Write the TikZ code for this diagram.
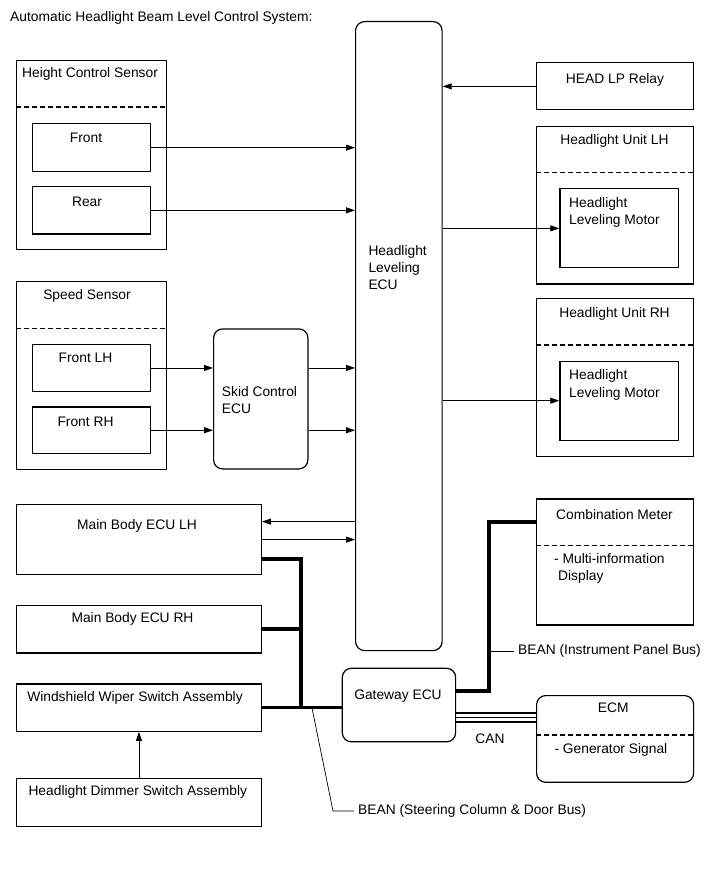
\documentclass[tikz,border=0pt]{standalone}
\usepackage{fontspec}
\setmainfont{Liberation Sans}
\usetikzlibrary{positioning,calc,arrows.meta}

\begin{document}
\begin{tikzpicture}[x=1pt,y=-1pt,
  blk/.style={draw,line width=1.2pt,rectangle,anchor=north west,inner sep=0pt},
  rblk/.style={blk,rounded corners=9pt},
  txt/.style={inner sep=0pt,font=\fontsize{13.8}{17.3}\selectfont},
  sig/.style={line width=0.8pt,-{Triangle[length=9pt,width=6pt]}},
  bus/.style={line width=3.6pt},
  can/.style={line width=1.4pt},
  dsh/.style={line width=1.2pt,dash pattern=on 5pt off 3pt},
  lead/.style={line width=0.7pt}]
\fill[white] (0,0) rectangle (713,882);
\useasboundingbox (0,0) rectangle (713,882);

% boxes
\node[blk,minimum width=150,minimum height=189] (hcs) at (16,60) {};
\node[blk,minimum width=118.5,minimum height=47.5] (front) at (31.5,123.3) {};
\node[blk,minimum width=118.5,minimum height=47.5] (rear) at (31.5,186) {};
\node[blk,minimum width=150,minimum height=188] (spd) at (16,281) {};
\node[blk,minimum width=118.5,minimum height=46.7] (flh) at (31.5,344) {};
\node[blk,minimum width=118.5,minimum height=46.7] (frh) at (31.5,406.3) {};
\node[rblk,minimum width=94.3,minimum height=140] (skid) at (213,328.3) {};
\node[rblk,minimum width=86.5,minimum height=629] (lvecu) at (355,21) {};
\node[blk,minimum width=157,minimum height=47] (relay) at (536,62.3) {};
\node[blk,minimum width=157,minimum height=157.6] (unitlh) at (536,125.7) {};
\node[blk,minimum width=118.4,minimum height=79] (motlh) at (559.3,188.3) {};
\node[blk,minimum width=157,minimum height=157.6] (unitrh) at (536,298) {};
\node[blk,minimum width=118.4,minimum height=79] (motrh) at (559.3,360.6) {};
\node[blk,minimum width=244.7,minimum height=70] (mblh) at (16,504) {};
\node[blk,minimum width=244.7,minimum height=47.3] (mbrh) at (16,605) {};
\node[blk,minimum width=244.7,minimum height=47.4] (wiper) at (16,683.3) {};
\node[blk,minimum width=244.7,minimum height=48] (dimmer) at (16,777.7) {};
\node[rblk,minimum width=113.3,minimum height=73.5] (gw) at (341.7,667.7) {};
\node[blk,minimum width=157,minimum height=126] (comb) at (536,498.3) {};
\node[rblk,minimum width=157,minimum height=86.7] (ecm) at (536,695) {};

% dashed dividers
\draw[dsh] (hcs.west |- 0,107) -- (hcs.east |- 0,107);
\draw[dsh] (spd.west |- 0,328.3) -- (spd.east |- 0,328.3);
\draw[dsh] (unitlh.west |- 0,172.7) -- (unitlh.east |- 0,172.7);
\draw[dsh] (unitrh.west |- 0,345) -- (unitrh.east |- 0,345);
\draw[dsh] (comb.west |- 0,545.7) -- (comb.east |- 0,545.7);
\draw[dsh] (ecm.west |- 0,735) -- (ecm.east |- 0,735);

% texts
\node[txt,anchor=base west] (title) at (10,22) {Automatic Headlight Beam Level Control System:};
\node[txt,anchor=base] (hcs-t) at (90,78) {Height Control Sensor};
\node[txt,anchor=base] (front-t) at (86,143) {Front};
\node[txt,anchor=base] (rear-t) at (87,207) {Rear};
\node[txt,anchor=base] (spd-t) at (87,299) {Speed Sensor};
\node[txt,anchor=base] (flh-t) at (85.5,362) {Front LH};
\node[txt,anchor=base] (frh-t) at (85.5,426) {Front RH};
\node[txt,anchor=north west,align=left] (skid-t) at (221.7,386) {Skid Control\\ECU};
\node[txt,anchor=north west,align=left] (lvecu-t) at (368.3,245) {Headlight\\Leveling\\ECU};
\node[txt,anchor=base] (relay-t) at (615,84) {HEAD LP Relay};
\node[txt,anchor=base] (unitlh-t) at (614.5,145) {Headlight Unit LH};
\node[txt,anchor=north west,align=left] (motlh-t) at (569,197.3) {Headlight\\Leveling Motor};
\node[txt,anchor=base] (unitrh-t) at (614.5,317.3) {Headlight Unit RH};
\node[txt,anchor=north west,align=left] (motrh-t) at (569,369.6) {Headlight\\Leveling Motor};
\node[txt,anchor=base] (mblh-t) at (137,529) {Main Body ECU LH};
\node[txt,anchor=base] (mbrh-t) at (132.5,622.7) {Main Body ECU RH};
\node[txt,anchor=base] (wiper-t) at (135,701) {Windshield Wiper Switch Assembly};
\node[txt,anchor=base] (dimmer-t) at (137.8,795) {Headlight Dimmer Switch Assembly};
\node[txt,anchor=base] (gw-t) at (398,699) {Gateway ECU};
\node[txt,anchor=base] (comb-t) at (614.5,519) {Combination Meter};
\node[txt,anchor=north west,align=left] (comb-d) at (554,553) {- Multi-information\\\hspace*{4pt}Display};
\node[txt,anchor=base] (ecm-t) at (613.3,712.7) {ECM};
\node[txt,anchor=base west] (ecm-d) at (554.3,753) {- Generator Signal};
\node[txt,anchor=base] (can-t) at (490,743) {CAN};
\node[txt,anchor=west] (beanip) at (518,651) {BEAN (Instrument Panel Bus)};
\node[txt,anchor=west] (beansc) at (358,811) {BEAN (Steering Column \& Door Bus)};

% signal lines
\foreach \s in {front,rear} \draw[sig] (\s.east) -- (\s.east -| lvecu.west);
\foreach \s in {flh,frh} {
  \draw[sig] (\s.east) -- (\s.east -| skid.west);
  \draw[sig] (\s.east -| skid.east) -- (\s.east -| lvecu.west);
}
\draw[sig] (relay.west) -- (relay.west -| lvecu.east);
\draw[sig] (motlh.west -| lvecu.east) -- (motlh.west);
\draw[sig] (motrh.west -| lvecu.east) -- (motrh.west);
\coordinate (mbin) at ($(mblh.east)+(0,-18)$);
\draw[sig] (mbin -| lvecu.west) -- (mbin);
\draw[sig] (mblh.east) -- (mblh.east -| lvecu.west);
\draw[sig] (dimmer.north) -- (wiper.south);

% buses
\coordinate (bj) at (301,707);
\draw[bus] (mblh.east |- 0,559) -| (bj);
\draw[bus] (mbrh.east) -- (mbrh.east -| bj);
\draw[bus] (wiper.east) -- (wiper.east -| gw.west);
\coordinate (ipb) at (489,522);
\draw[bus] (gw.east |- 0,691) -| (ipb) -- (comb.west |- ipb);
\foreach \dy in {713,717.5,722} \draw[can] (gw.east |- 0,\dy) -- (ecm.west |- 0,\dy);

% bus labels
\draw[lead,shorten >=4pt] (ipb |- beanip.west) -- (beanip.west);
\coordinate (scb) at (312,708);
\coordinate (scbend) at (333,811);
\draw[lead,shorten >=4pt] (scb) -- (scbend) -- (beansc.west);
\end{tikzpicture}
\end{document}
